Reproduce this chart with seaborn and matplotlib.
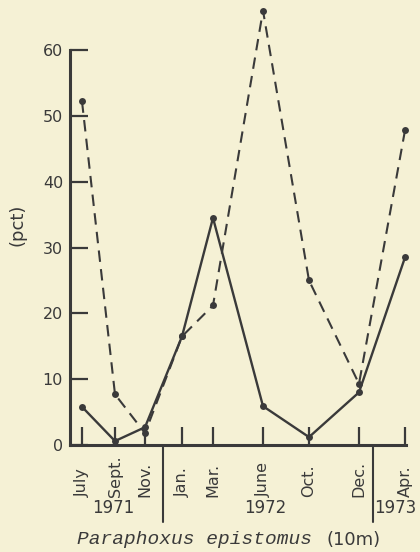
import matplotlib
matplotlib.use("Agg")
import matplotlib.pyplot as plt
import seaborn as sns

# sampling months and their position along the (unevenly spaced) x axis
months = ["July", "Sept.", "Nov.", "Jan.", "Mar.", "June", "Oct.", "Dec.", "Apr."]
xpos = [12, 45, 75, 112, 143, 193, 239, 289, 335]

# percentages
solid_pct = [5.8, 0.6, 2.7, 16.5, 34.5, 5.9, 1.2, 8.0, 28.5]
dashed_pct = [52.2, 7.7, 1.8, 16.5, 21.2, 66.0, 25.0, 9.3, 47.8]

years = ["1971", "1972", "1973"]
year_mid = [43, 195, 325]
year_breaks = [93, 303]

yticks = [0, 10, 20, 30, 40, 50, 60]

bg = "#f5f1d5"
ink = "#3a3a3a"

sns.set_style("ticks")
plt.rcParams['font.family'] = ['DejaVu Sans']

fig = plt.figure(figsize=(4.2, 5.52), dpi=100, facecolor=bg)
ax = fig.add_axes([70 / 420, 107 / 552, 336 / 420, 441 / 552])
ax.set_facecolor(bg)

sns.lineplot(x=xpos, y=solid_pct, ax=ax, color=ink, lw=1.7,
             marker="o", markersize=5, markeredgewidth=0, clip_on=False)
sns.lineplot(x=xpos, y=dashed_pct, ax=ax, color=ink, lw=1.5,
             linestyle=(0, (5.5, 3.5)), marker="o", markersize=5,
             markeredgewidth=0, clip_on=False)

ax.set_xlim(0, 336)
ax.set_ylim(0, 67)

for s in ["top", "right"]:
    ax.spines[s].set_visible(False)
ax.spines["left"].set_bounds(0, 60)
for s in ["left", "bottom"]:
    ax.spines[s].set_linewidth(2.2)
    ax.spines[s].set_color(ink)

ax.set_yticks(yticks)
ax.set_yticklabels([str(v) for v in yticks], fontsize=11.5, color=ink)
ax.set_xticks(xpos)
ax.set_xticklabels([])
ax.tick_params(axis="both", direction="in", length=13, width=1.6, color=ink)
ax.tick_params(axis="y", pad=5)

# month labels under the axis
tr = ax.get_xaxis_transform()
for x, m in zip(xpos, months):
    ax.text(x, -0.118, m, transform=tr, rotation=90, ha="center", va="bottom",
            fontsize=11.5, color=ink)

# year labels and separators
for x, yr in zip(year_mid, years):
    ax.text(x, -0.143, yr, transform=tr, ha="center", va="center",
            fontsize=12, color=ink)
for x in year_breaks:
    ax.plot([x, x], [0, -0.175], transform=tr, color=ink, lw=1.5, clip_on=False)

ax.set_xlabel("")
ax.set_ylabel("(pct)", fontsize=13, color=ink, labelpad=12)

fig.text(0.183, 1 - 540 / 552, "Paraphoxus epistomus", family="Liberation Mono",
         style="italic", fontsize=14, color=ink, ha="left", va="center")
fig.text(0.778, 1 - 540 / 552, "(10m)", fontsize=13, color=ink,
         ha="left", va="center")

fig.savefig("out.png", dpi=100, facecolor=bg)
